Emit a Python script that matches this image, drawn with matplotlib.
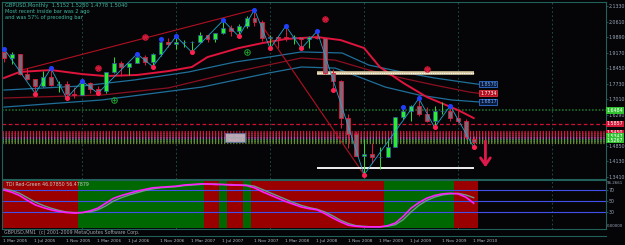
import matplotlib
matplotlib.use("Agg")
import matplotlib.pyplot as plt
from matplotlib.lines import Line2D
import numpy as np

# monthly GBPUSD, Mar 2005 .. Mar 2010
opens = [1.9190, 1.8910, 1.9090, 1.8180, 1.7920, 1.7600, 1.8030, 1.7650, 1.7700, 1.7260,
         1.7210, 1.7780, 1.7460, 1.7380, 1.8250, 1.8690, 1.8490, 1.8690, 1.8980, 1.8720, 1.9080, 1.9640,
         1.9580, 1.9640, 1.9640, 1.9680, 1.9990, 1.9790, 2.0060, 2.0330, 2.0150, 2.0410, 2.0780, 2.0590,
         1.9850, 1.9870, 1.9860, 1.9850, 1.9880, 1.9780, 1.9900, 1.9850, 1.8220, 1.7850, 1.6150, 1.5380,
         1.4380, 1.4480, 1.4320, 1.4330, 1.4790, 1.6160, 1.6460, 1.6700, 1.6300, 1.5980, 1.6450, 1.6480,
         1.6150, 1.6000, 1.5150]
highs = [1.9350, 1.9200, 1.9120, 1.8440, 1.7930, 1.8320, 1.8440, 1.7860, 1.7850, 1.7590,
         1.7850, 1.7800, 1.7640, 1.8280, 1.8980, 1.8760, 1.8700, 1.9110, 1.9050, 1.9140, 1.9810, 1.9850,
         1.9920, 1.9730, 1.9700, 2.0130, 2.0000, 2.0090, 2.0660, 2.0430, 2.0480, 2.0850, 2.1160, 2.0660,
         1.9980, 1.9940, 2.0400, 1.9970, 1.9880, 1.9950, 2.0160, 1.9860, 1.8400, 1.7900, 1.6300, 1.5510,
         1.5170, 1.4980, 1.4780, 1.5070, 1.6170, 1.6660, 1.6720, 1.7040, 1.6630, 1.6700, 1.6880, 1.6700,
         1.6460, 1.6100, 1.5280]
lows = [1.8745, 1.8650, 1.8150, 1.7880, 1.7270, 1.7570, 1.7610, 1.7320, 1.7050, 1.7080,
        1.7200, 1.7280, 1.7280, 1.7310, 1.8200, 1.8100, 1.8110, 1.8690, 1.8580, 1.8520, 1.9030, 1.9430,
        1.9350, 1.9450, 1.9180, 1.9640, 1.9660, 1.9650, 2.0030, 1.9930, 1.9920, 2.0290, 2.0400, 1.9700,
        1.9360, 1.9360, 1.9720, 1.9550, 1.9360, 1.9380, 1.9800, 1.8190, 1.7450, 1.5650, 1.4730, 1.4380,
        1.3500, 1.4050, 1.3750, 1.4310, 1.4790, 1.6080, 1.5990, 1.6210, 1.5940, 1.5700, 1.6320, 1.5990,
        1.5880, 1.5150, 1.4780]
closes = [1.8910, 1.9090, 1.8180, 1.7920, 1.7600, 1.8030, 1.7650, 1.7700, 1.7260, 1.7210,
          1.7780, 1.7460, 1.7380, 1.8250, 1.8690, 1.8490, 1.8690, 1.8980, 1.8720, 1.9080, 1.9640, 1.9580,
          1.9640, 1.9640, 1.9680, 1.9990, 1.9790, 2.0060, 2.0330, 2.0150, 2.0410, 2.0780, 2.0590, 1.9850,
          1.9870, 1.9860, 1.9850, 1.9880, 1.9780, 1.9900, 1.9850, 1.8220, 1.7850, 1.6150, 1.5380, 1.4380,
          1.4480, 1.4320, 1.4330, 1.4790, 1.6160, 1.6460, 1.6700, 1.6300, 1.5980, 1.6450, 1.6480, 1.6150,
          1.6000, 1.5230, 1.5040]

date_idx = [0, 4, 8, 12, 16, 20, 24, 28, 32, 36, 40, 44, 48, 52, 56, 60]
date_labels = ["1 Mar 2005", "1 Jul 2005", "1 Nov 2005", "1 Mar 2006", "1 Jul 2006", "1 Nov 2006",
               "1 Mar 2007", "1 Jul 2007", "1 Nov 2007", "1 Mar 2008", "1 Jul 2008", "1 Nov 2008",
               "1 Mar 2009", "1 Jul 2009", "1 Nov 2009", "1 Mar 2010"]
grid_idx = [10, 22, 34, 46, 58, 70]

# moving averages / envelopes (month index, price)
ma_x = [0, 2, 6, 10, 13, 17, 21, 24, 26, 30, 33, 36, 40, 43, 46, 48, 51, 54, 58, 60]
ma_y = [1.799, 1.827, 1.836, 1.817, 1.808, 1.813, 1.831, 1.850, 1.896, 1.938, 1.961, 1.980,
        1.989, 1.975, 1.938, 1.850, 1.776, 1.711, 1.650, 1.613]
env_up_x = [0, 10, 16.7, 23.6, 29.5, 33.8, 38, 43.2, 46.6, 50.8, 55, 59.4, 60.6]
env_up_y = [1.743, 1.762, 1.790, 1.827, 1.873, 1.896, 1.920, 1.915, 1.859, 1.827, 1.799, 1.776, 1.770]
env_mid_x = [0, 12.5, 21, 29.5, 38, 42.3, 46.6, 50.8, 55, 59.4, 60.6]
env_mid_y = [1.706, 1.720, 1.753, 1.827, 1.892, 1.882, 1.836, 1.799, 1.766, 1.734, 1.728]
env_lo_x = [0, 12.5, 25.3, 33.8, 38, 42.3, 45.7, 48.7, 53, 57.2, 60.6]
env_lo_y = [1.664, 1.697, 1.757, 1.822, 1.850, 1.845, 1.799, 1.757, 1.720, 1.697, 1.688]
env_labels = ["1.8570", "1.7734", "1.6817"]

zz_idx = [0, 4, 6, 8, 10, 12, 17, 19, 22, 24, 28, 30, 32, 34, 36, 38, 40, 46, 53, 55, 57, 60]
zz_kind = "HLHLHLHLHLHLHLHLHLHL" + "HL"
extra_high_idx = [20, 51]
extra_low_idx = [42]

trend1 = ([2.3, 32], [1.836, 2.116])
trend2 = ([33, 46], [2.040, 1.350])

resist_lvl, support_lvl = 1.822, 1.381
zone_from, zone_to = 40, 60
green_lvl, red_lvl = 1.6484, 1.5857
band_lvls = [1.548, 1.539, 1.530, 1.521, 1.511, 1.502]
band_cols = ["#c81838", "#c82040", "#b02848", "#d040b0", "#40a040", "#6a8a30"]
side_labels = [("1.6484", 1.6484, "#30c030"), ("1.5857", 1.5857, "#d01838"),
               ("1.5450", 1.5450, "#d01838"), ("1.5347", 1.5290, "#30c030"),
               ("1.5267", 1.5110, "#30c030")]

star_x = [12, 18, 41, 54]
star_y = [1.845, 1.989, 2.073, 1.841]
ring_x = [14, 31]
ring_y = [1.697, 1.920]

price_ticks = [2.1330, 2.0610, 1.9890, 1.9170, 1.8450, 1.7730, 1.7010, 1.6290, 1.4850, 1.4130, 1.3410]

tdi = [70, 66, 60, 51, 43, 38, 34, 31, 29, 28, 29, 32, 37, 46, 55, 60, 64, 68, 71, 74, 75, 76,
       77, 79, 80, 81, 81, 80, 80, 79, 79, 78, 74, 67, 61, 55, 49, 44, 39, 36, 34, 27, 19, 12,
       6, 4, 3, 3, 3, 5, 10, 22, 37, 47, 55, 60, 63, 64, 63, 57, 46]
tdi_sig = [72, 69, 64, 56, 48, 42, 37, 33, 30, 29, 29, 30, 34, 41, 50, 56, 61, 65, 69, 72, 74, 75,
           76, 78, 79, 80, 81, 81, 80, 80, 79, 79, 77, 71, 65, 59, 53, 47, 42, 38, 35, 30, 23, 15,
           9, 5, 4, 3, 3, 4, 7, 16, 30, 42, 51, 57, 61, 63, 64, 61, 56]
tdi_state = "RRRRRRRRRR" + "GGGGGGGGGGGGGGGG" + "RR" + "G" + "RR" + "G" + "RRRRRRRRRRRRRRRRR" + "GGGGGGGGG" + "RRR"
tdi_levels = [70, 50, 30]

FRAME = "#22605a"
TXT = "#9aa6b8"
BG = "#050508"
FS = 3.4

o, h, l, c = map(np.array, (opens, highs, lows, closes))
x = np.arange(len(c))

fig = plt.figure(figsize=(6.25, 2.45), dpi=100, facecolor=BG)
ax = fig.add_axes([2 / 625, 1 - 179 / 245, 604 / 625, 177 / 245], facecolor=BG)
ai = fig.add_axes([2 / 625, 1 - 229 / 245, 604 / 625, 49 / 245], facecolor=BG)

for a in (ax, ai):
    a.set_xlim(-0.25, 76.9)
    for s in a.spines.values():
        s.set_color(FRAME)
        s.set_linewidth(0.8)
    a.yaxis.tick_right()
    a.tick_params(axis="y", colors=FRAME, labelcolor=TXT, labelsize=FS, length=1.2, width=0.6, pad=0.6)
    a.set_xticks([])
    for g in grid_idx:
        a.axvline(g, color="#1e5a50", lw=0.6, ls=(0, (2, 3)), zorder=1)

ax.set_ylim(1.3303, 2.1516)
ax.set_yticks(price_ticks)
ax.set_yticklabels([f"{v:.4f}" for v in price_ticks])

# horizontal levels
ax.axhline(green_lvl, color="#1c6a2a", lw=1.2, ls=(0, (1, 1)), zorder=2)
ax.axhline(red_lvl, color="#d01030", lw=0.9, ls=(0, (3, 2)), zorder=2)
for lv, col in zip(band_lvls, band_cols):
    ax.axhline(lv, color=col, lw=2.3, ls=(0, (0.4, 0.55)), dash_capstyle="butt", zorder=2)
for txt, lv, col in side_labels:
    ax.text(1.001, lv, txt, transform=ax.get_yaxis_transform(), fontsize=FS, color="#ffffff",
            va="center", ha="left", clip_on=False,
            bbox=dict(boxstyle="square,pad=0.12", fc=col, ec="none"))

# MAs and envelopes
ax.plot(env_up_x, env_up_y, color="#1f6f9a", lw=0.9, zorder=3)
ax.plot(env_mid_x, env_mid_y, color="#8a1020", lw=0.9, zorder=3)
ax.plot(env_lo_x, env_lo_y, color="#1f6f9a", lw=0.9, zorder=3)
ax.plot(ma_x, ma_y, color="#e0143c", lw=1.4, zorder=3)
for txt, yv, fc, ec, tc in zip(env_labels, [env_up_y[-1], env_mid_y[-1], env_lo_y[-1]],
                               ["#0a1a38", "#b01020", "#0a1a38"], ["#3070d0", "#e03040", "#3070d0"],
                               ["#70a8ff", "#ffffff", "#70a8ff"]):
    ax.text(env_up_x[-1] + 0.2, yv, txt, fontsize=FS, color=tc, va="center", ha="left",
            bbox=dict(boxstyle="square,pad=0.15", fc=fc, ec=ec, lw=0.6), zorder=6)

# trendlines, zones
ax.plot(*trend1, color="#b01020", lw=0.8, zorder=3)
ax.plot(*trend2, color="#b01020", lw=0.8, zorder=3)
ax.hlines(resist_lvl, zone_from, zone_to, color="#d8c8a0", lw=2.6, zorder=4)
ax.hlines(resist_lvl, zone_from, zone_to, color="#ffffff", lw=0.8, ls=(0, (1, 1)), zorder=4)
ax.hlines(support_lvl, zone_from, zone_to, color="#f0f0f0", lw=1.4, zorder=4)

# candles
up = c >= o
body_lo = np.minimum(o, c)
body_h = np.maximum(np.abs(c - o), 0.002)
ax.vlines(x[up], l[up], h[up], color="#30e030", lw=0.7, zorder=4)
ax.vlines(x[~up], l[~up], h[~up], color="#e0183c", lw=0.7, zorder=4)
ax.bar(x[up], body_h[up], bottom=body_lo[up], width=0.5, color="#28f028", edgecolor="#3050b0",
       lw=0.5, zorder=5)
ax.bar(x[~up], body_h[~up], bottom=body_lo[~up], width=0.5, color="#7a6a78", edgecolor="#e0183c",
       lw=0.6, zorder=5)

# zigzag
zz_y = [h[i] if k == "H" else l[i] for i, k in zip(zz_idx, zz_kind)]
ax.plot(zz_idx, zz_y, color="#20a8c8", lw=0.6, zorder=6)
hi_i = [i for i, k in zip(zz_idx, zz_kind) if k == "H"] + extra_high_idx
lo_i = [i for i, k in zip(zz_idx, zz_kind) if k == "L"] + extra_low_idx
ax.plot(hi_i, h[hi_i], ls="none", marker="o", ms=2.6, color="#2040ff", zorder=7)
ax.plot(lo_i, l[lo_i], ls="none", marker="o", ms=2.6, color="#ff2050", zorder=7)

ax.plot(star_x, star_y, ls="none", marker="o", ms=4, mfc="none", mec="#d01838", mew=0.7, zorder=7)
ax.plot(star_x, star_y, ls="none", marker="*", ms=3.5, color="#d01838", zorder=7)
ax.plot(ring_x, ring_y, ls="none", marker="o", ms=4, mfc="none", mec="#20a030", mew=0.7, zorder=7)
ax.plot(ring_x, ring_y, ls="none", marker="+", ms=3, color="#20a030", mew=0.6, zorder=7)

# garbled object label cluster
ax.text(29.5, 1.522, "Sell Stop\nTarget 1", fontsize=3.0, color="#f0a0b8", ha="center", va="center",
        linespacing=0.9, bbox=dict(boxstyle="square,pad=0.2", fc="#a8aab0", ec="#5a6aa0", lw=0.5), zorder=6)

# big signal arrow
ax.annotate("", xy=(61.5, 1.372), xytext=(61.5, 1.520),
            arrowprops=dict(arrowstyle="->,head_length=0.5,head_width=0.35", color="#e0184c", lw=2.0),
            zorder=8)

for k, line in enumerate(["GBPUSD,Monthly  1.5152 1.5280 1.4778 1.5040",
                          "Most recent inside bar was 2 ago",
                          "and was 57% of preceding bar"]):
    fig.text(5 / 625, 1 - (5 + 6 * k) / 245, line, fontsize=FS + 0.3, color="#40b8a0", va="center")

# indicator panel
ai.set_ylim(-0.9, 88.2)
n = len(tdi)
cols = ["#9a0000" if s == "R" else "#006800" for s in tdi_state]
ai.bar(np.arange(n), 85.5, bottom=0.8, width=1.0, color=cols, lw=0, zorder=1)
for lv in tdi_levels:
    ai.axhline(lv, color="#4050e8", lw=0.8, zorder=2)
ai.plot(np.arange(n), tdi_sig, color="#6a9a8a", lw=1.0, zorder=3)
ai.plot(np.arange(n), tdi, color="#ff20ff", lw=1.2, zorder=4)
ai.set_yticks(tdi_levels)
ai.set_yticklabels([str(v) for v in tdi_levels])
ai.text(1.001, 82.5, "96.2661", transform=ai.get_yaxis_transform(), fontsize=2.9, color=TXT,
        va="center", ha="left", clip_on=False)
ai.text(1.001, 4.5, "0.00000", transform=ai.get_yaxis_transform(), fontsize=2.9, color=TXT,
        va="center", ha="left", clip_on=False)
ai.text(0.006, 0.9, "TDI Red-Green 46.07850 56.47879", transform=ai.transAxes, fontsize=FS,
        color="#c8c8c8", va="center")

fig.text(4 / 625, 1 - 232.5 / 245, "GBPUSD,MN1  (c) 2001-2009 MetaQuotes Software Corp.", fontsize=FS,
         color="#a0a8b0", va="center")
fig.add_artist(Line2D([2 / 625, 606 / 625], [1 - 236 / 245] * 2, color=FRAME, lw=0.8))
for i, lab in zip(date_idx, date_labels):
    ai.text(i - 0.1, -0.245, lab, transform=ai.get_xaxis_transform(), fontsize=3.1, color="#b0b8c0",
            ha="left", va="center", clip_on=False)

fig.savefig("out.png", dpi=100, facecolor=BG)
